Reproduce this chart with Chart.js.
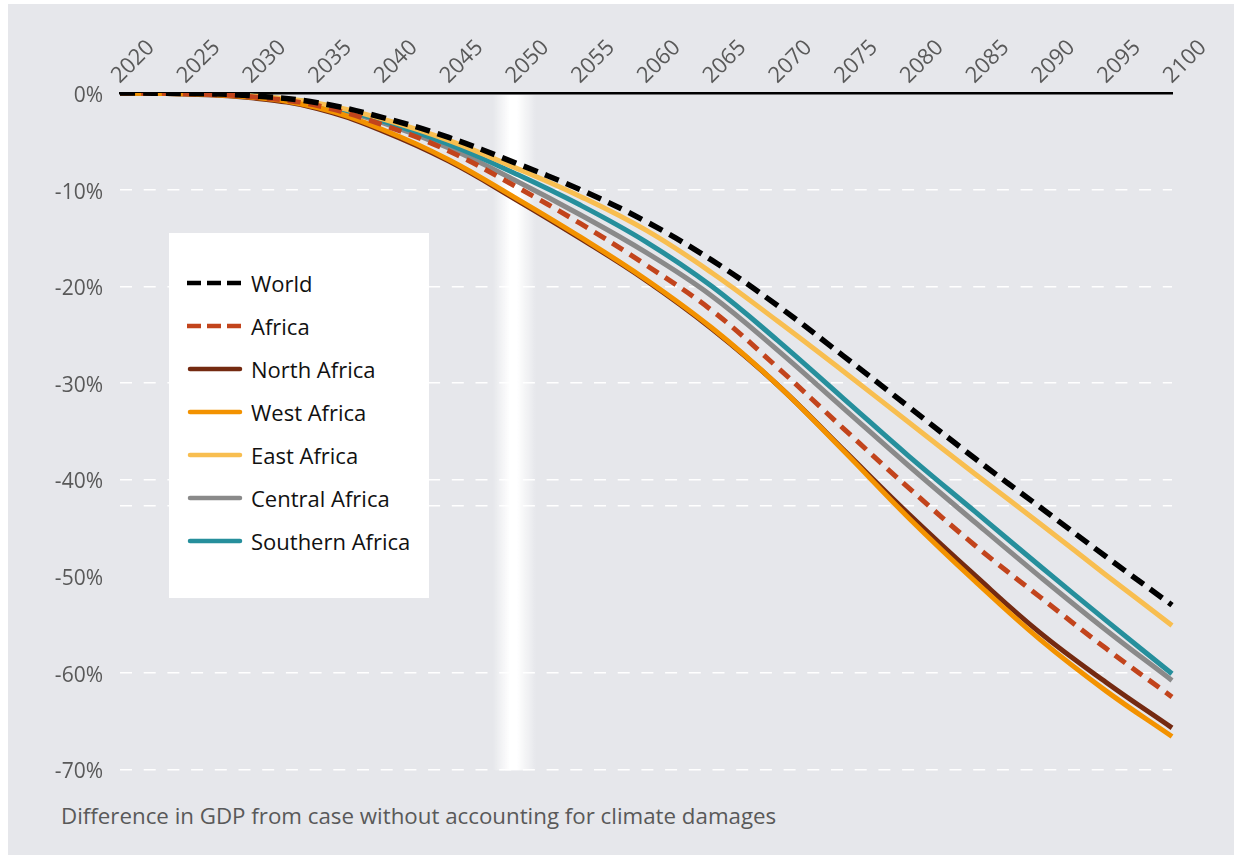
<!DOCTYPE html>
<html>
<head>
<meta charset="utf-8">
<script src="https://cdn.jsdelivr.net/npm/chart.js@4.4.1/dist/chart.umd.min.js"></script>
<style>
  html, body { margin: 0; padding: 0; background: #fff; }
  #panel { position: absolute; left: 8px; top: 4px; width: 1226px; height: 851px; background: #e6e7eb; }
  #wrap { position: absolute; left: 0; top: 0; width: 1234px; height: 799px; }
  #caption { position: absolute; left: 61px; top: 800px; font: 22.3px "Open Sans", sans-serif; color: #595959; white-space: nowrap; }
  #legend { position: absolute; left: 169px; top: 233px; width: 260px; height: 365px; background: #fff; }
  .item { position: absolute; left: 18px; height: 30px; font: 22px "Open Sans", sans-serif; color: #111; }
  .item svg { position: absolute; left: 0; top: 12px; }
  .item span { position: absolute; left: 64px; top: 0; line-height: 30px; white-space: nowrap; }
</style>
</head>
<body>
<div id="panel"></div>
<div id="wrap"><canvas id="gdp_chart"></canvas></div>
<div id="legend"></div>
<div id="caption">Difference in GDP from case without accounting for climate damages</div>
<script>
// data (percent difference in GDP)
var years = ['2020','2025','2030','2035','2040','2045','2050','2055','2060','2065','2070','2075','2080','2085','2090','2095','2100'];
var world    = [0, -0.05, -0.28, -1.0, -2.55, -4.6, -7.2, -10.0, -13.3, -17.3, -22.0, -27.2, -32.5, -37.8, -42.9, -48.0, -53.0];
var africa   = [0, -0.08, -0.4, -1.3, -3.3, -6.0, -9.6, -13.5, -17.8, -22.5, -28.4, -34.7, -40.9, -46.8, -52.2, -57.5, -62.5];
var north    = [0, -0.1, -0.5, -1.6, -3.95, -7.05, -10.95, -15.05, -19.4, -24.4, -30.2, -36.9, -43.6, -49.9, -55.9, -61.0, -65.7];
var west     = [0, -0.08, -0.43, -1.5, -3.8, -6.9, -10.8, -14.9, -19.3, -24.3, -30.2, -37.0, -44.0, -50.5, -56.6, -61.9, -66.6];
var east     = [0, -0.05, -0.3, -1.05, -2.7, -4.9, -7.7, -10.7, -14.2, -18.6, -23.6, -28.8, -34.1, -39.4, -44.6, -49.9, -55.1];
var central  = [0, -0.07, -0.36, -1.2, -3.1, -5.7, -9.0, -12.6, -16.5, -21.0, -26.6, -32.6, -38.6, -44.4, -50.1, -55.6, -60.8];
var southern = [0, -0.06, -0.32, -1.1, -2.9, -5.3, -8.3, -11.6, -15.4, -20.0, -25.6, -31.6, -37.6, -43.3, -49.0, -54.6, -60.1];

var highlightYear = '2050';
var extraGridValues = [-42.7];
var hiddenGridValues = [0, -50];

function make_dataset(label, values, color, dash, width) {
	return {
		label: label,
		data: values,
		borderColor: color,
		backgroundColor: color,
		borderDash: dash,
		borderWidth: width,
		pointRadius: 0,
		tension: 0.4,
		fill: false
	};
}

var datasets = [
	make_dataset('World', world, '#000000', [15, 8], 5.5),
	make_dataset('Africa', africa, '#c2441c', [13, 8], 5),
	make_dataset('North Africa', north, '#742a11', [], 5),
	make_dataset('West Africa', west, '#f39200', [], 5),
	make_dataset('East Africa', east, '#f8be50', [], 5),
	make_dataset('Central Africa', central, '#8a8a8a', [], 5),
	make_dataset('Southern Africa', southern, '#268f9c', [], 5)
];
// drawing order: world on top, then africa, then the yellow etc.
var drawOrder = [0, 1, 4, 2, 3, 6, 5];
datasets.forEach(function(d, i){ d.order = drawOrder[i]; });

// white glow band behind 2050
var bandPlugin = {
	id: 'band',
	beforeDatasetsDraw: function(chart) {
		var ctx = chart.ctx, area = chart.chartArea;
		var cx = chart.scales.x.getPixelForValue(years.indexOf(highlightYear));
		var half = 22;
		var g = ctx.createLinearGradient(cx - half, 0, cx + half, 0);
		g.addColorStop(0, 'rgba(255,255,255,0)');
		g.addColorStop(0.4, 'rgba(255,255,255,1)');
		g.addColorStop(0.55, 'rgba(255,255,255,1)');
		g.addColorStop(1, 'rgba(255,255,255,0)');
		ctx.save();
		ctx.fillStyle = g;
		ctx.fillRect(cx - half, area.top + 2, half * 2, area.bottom - area.top - 1);
		ctx.restore();
	}
};

var ctx = document.getElementById('gdp_chart');
var gdp_chart = new Chart(ctx, {
	type: 'line',
	data: { labels: years, datasets: datasets },
	plugins: [bandPlugin],
	options: {
		responsive: true,
		maintainAspectRatio: false,
		animation: false,
		layout: { padding: { left: 10, top: 0, right: 62, bottom: 12 } },
		plugins: { legend: { display: false }, tooltip: { enabled: false } },
		scales: {
			x: {
				position: 'top',
				offset: false,
				grid: { display: false, drawTicks: false },
				border: { display: true, color: '#000', width: 2.5 },
				ticks: { color: '#595959', font: { family: '"Open Sans", sans-serif', size: 22 },
					minRotation: 45, maxRotation: 45, padding: 4, labelOffset: 14, autoSkip: false },
				afterFit: function(s){ s.height = 93; }
			},
			y: {
				min: -70,
				max: 0,
				border: { display: false, dash: [12, 11.7] },
				grid: {
					drawTicks: false,
					lineWidth: 1.5,
					color: function(c){
						return (c.tick && hiddenGridValues.indexOf(c.tick.value) >= 0) ? 'rgba(0,0,0,0)' : '#ffffff';
					}
				},
				ticks: {
					stepSize: 10,
					color: '#595959',
					font: { family: '"Open Sans", sans-serif', size: 21 },
					padding: 17,
					labelOffset: 3,
					callback: function(v){ return extraGridValues.indexOf(v) >= 0 ? '' : v + '%'; }
				},
				afterBuildTicks: function(s){
					extraGridValues.forEach(function(v){ s.ticks.push({ value: v }); });
					s.ticks.sort(function(a, b){ return a.value - b.value; });
				},
				afterFit: function(s){ s.width = 110; }
			}
		}
	}
});

// legend box built from the datasets
var legend = document.getElementById('legend');
datasets.forEach(function(d, i){
	var item = document.createElement('div');
	item.className = 'item';
	item.style.top = (35 + i * 43) + 'px';
	var dash = d.borderDash.length ? ' stroke-dasharray="14 6"' : ' stroke-linecap="round"';
	item.innerHTML = '<svg width="56" height="6"><line x1="' + (d.borderDash.length ? 0 : 3) + '" y1="3" x2="' + (d.borderDash.length ? 56 : 53) +
		'" y2="3" stroke="' + d.borderColor + '" stroke-width="4.5"' + dash + '/></svg><span>' + d.label + '</span>';
	legend.appendChild(item);
});
</script>
</body>
</html>
